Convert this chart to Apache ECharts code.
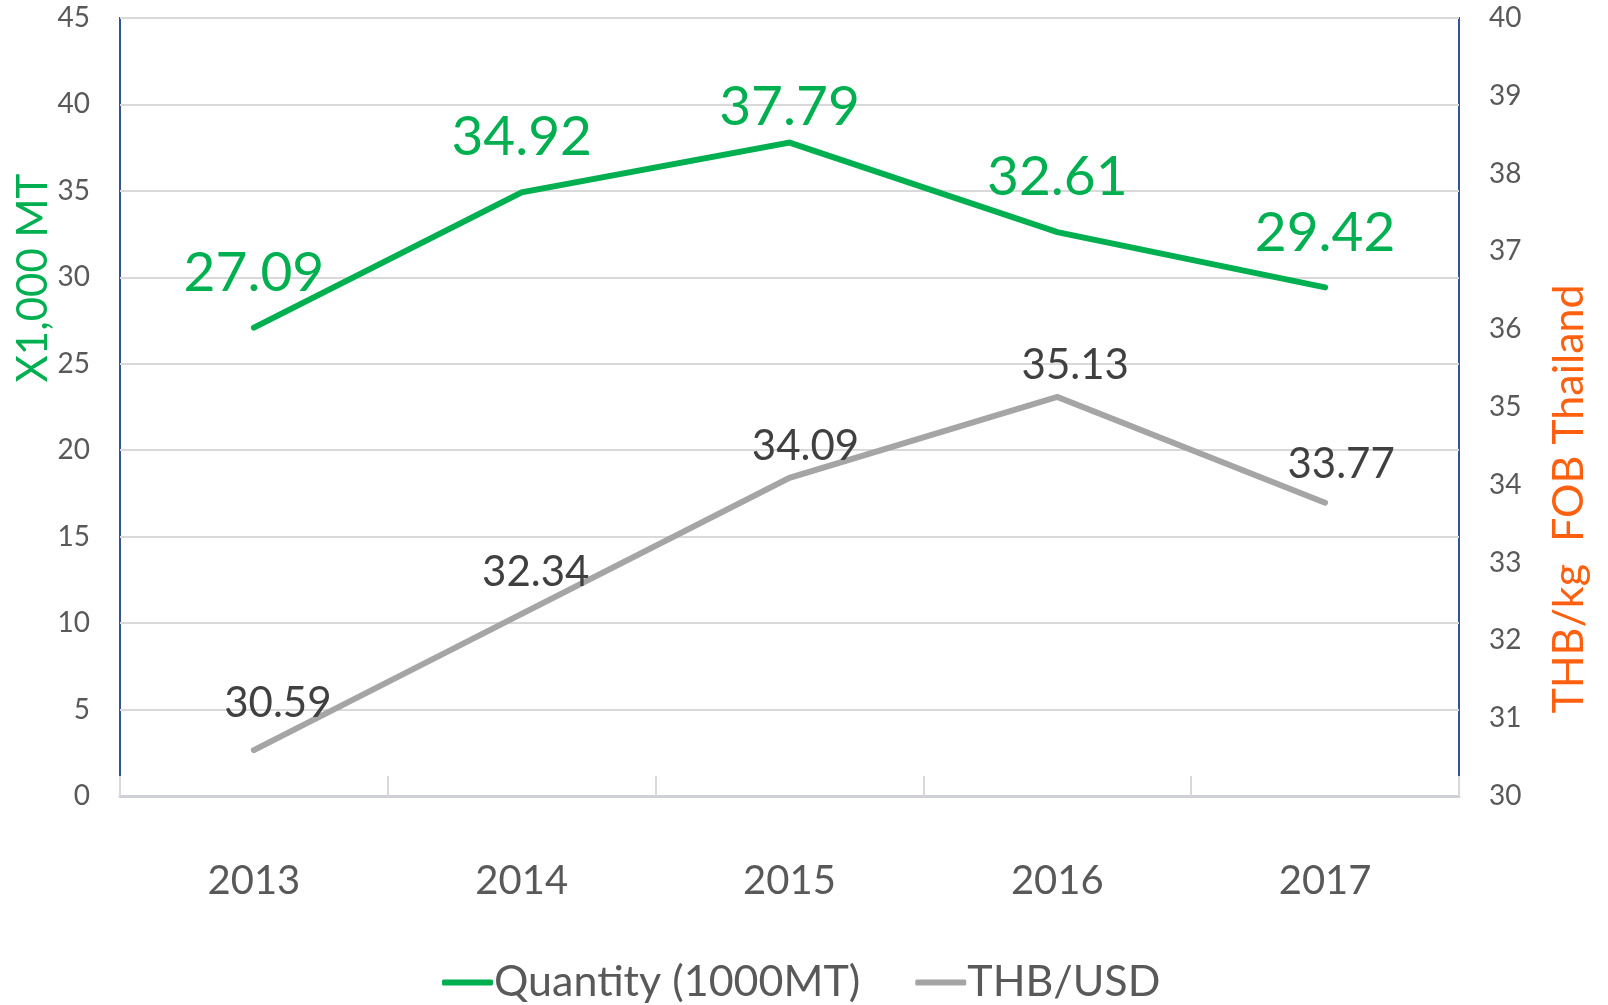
<!DOCTYPE html>
<html>
<head>
<meta charset="utf-8">
<script src="https://cdn.jsdelivr.net/npm/echarts@6/dist/echarts.min.js"></script>
<style>
html,body{margin:0;padding:0;background:#fff;}
#chart{width:1608px;height:1005px;}
</style>
</head>
<body>
<div id="chart"></div>
<script>
const categories = ['2013', '2014', '2015', '2016', '2017'];
const quantity = [27.09, 34.92, 37.79, 32.61, 29.42];
const thbUsd = [30.59, 32.34, 34.09, 35.13, 33.77];
const leftTicks = { min: 0, max: 45, interval: 5 };
const rightTicks = { min: 30, max: 40, interval: 1 };
const seriesNames = ['Quantity (1000MT)', 'THB/USD'];
const axisNames = ['X1,000 MT', 'THB/kg  FOB Thailand'];

const FONT = 'Lato, "Noto Sans", sans-serif';
const GREEN = '#00B050';
const GRAY = '#A5A5A5';
const ORANGE = '#FF6010';
const TEXT = '#595959';

// label placement tweaks per point (style only)
const greenDist = [27, 27, 8, 27, 27];
const grayOffset = [[24, -16], [14, -10], [16, 0], [18, 0], [16, -7]];

const chart = echarts.init(document.getElementById('chart'));
chart.setOption({
  animation: false,
  grid: {
    left: 120, right: 149, top: 18, bottom: 209,
    show: true, borderColor: '#2F5597', borderWidth: 2, backgroundColor: 'transparent'
  },
  legend: {
    left: 437, top: 956,
    itemWidth: 51, itemHeight: 6, itemGap: 55,
    icon: 'roundRect',
    textStyle: { fontFamily: FONT, fontSize: 43, color: TEXT, padding: [0, 0, 0, -4] },
    data: seriesNames
  },
  xAxis: {
    type: 'category',
    data: categories,
    boundaryGap: true,
    axisLine: { lineStyle: { color: '#CFCFD6', width: 3 } },
    axisTick: { show: true, inside: true, length: 20, lineStyle: { color: '#D9D9D9', width: 2 } },
    axisLabel: { fontFamily: FONT, fontSize: 40, color: TEXT, margin: 65 }
  },
  yAxis: [
    {
      type: 'value', min: leftTicks.min, max: leftTicks.max, interval: leftTicks.interval,
      axisLine: { show: false }, axisTick: { show: false },
      splitLine: { show: true, lineStyle: { color: '#D9D9D9', width: 2 } },
      axisLabel: { fontFamily: FONT, fontSize: 28, color: TEXT, margin: 30 }
    },
    {
      type: 'value', min: rightTicks.min, max: rightTicks.max, interval: rightTicks.interval,
      position: 'right',
      axisLine: { show: false }, axisTick: { show: false },
      splitLine: { show: false },
      axisLabel: { fontFamily: FONT, fontSize: 28, color: TEXT, margin: 30 }
    }
  ],
  graphic: [
    {
      type: 'text', x: 33, y: 278, rotation: Math.PI / 2,
      style: { text: axisNames[0], font: '42px ' + FONT, fill: GREEN, align: 'center', verticalAlign: 'middle' }
    },
    {
      type: 'text', x: 1569, y: 499, rotation: Math.PI / 2,
      style: { text: axisNames[1], font: '43px ' + FONT, fill: ORANGE, align: 'center', verticalAlign: 'middle' }
    }
  ],
  series: [
    {
      name: seriesNames[0], type: 'line', yAxisIndex: 0,
      data: quantity.map((v, i) => ({ value: v, label: { distance: greenDist[i] } })),
      showSymbol: true, symbol: 'circle', symbolSize: 0.1,
      lineStyle: { color: GREEN, width: 6, cap: 'round', join: 'miter' },
      itemStyle: { color: GREEN },
      label: { show: true, position: 'top', fontFamily: FONT, fontSize: 55, color: GREEN,
               formatter: p => p.value.toFixed(2) }
    },
    {
      name: seriesNames[1], type: 'line', yAxisIndex: 1,
      data: thbUsd.map((v, i) => ({ value: v, label: { offset: grayOffset[i] } })),
      showSymbol: true, symbol: 'circle', symbolSize: 0.1,
      lineStyle: { color: GRAY, width: 6, cap: 'round', join: 'miter' },
      itemStyle: { color: GRAY },
      label: { show: true, position: 'top', distance: 10, fontFamily: FONT, fontSize: 42, color: '#404040',
               formatter: p => p.value.toFixed(2) }
    }
  ]
});
</script>
</body>
</html>
